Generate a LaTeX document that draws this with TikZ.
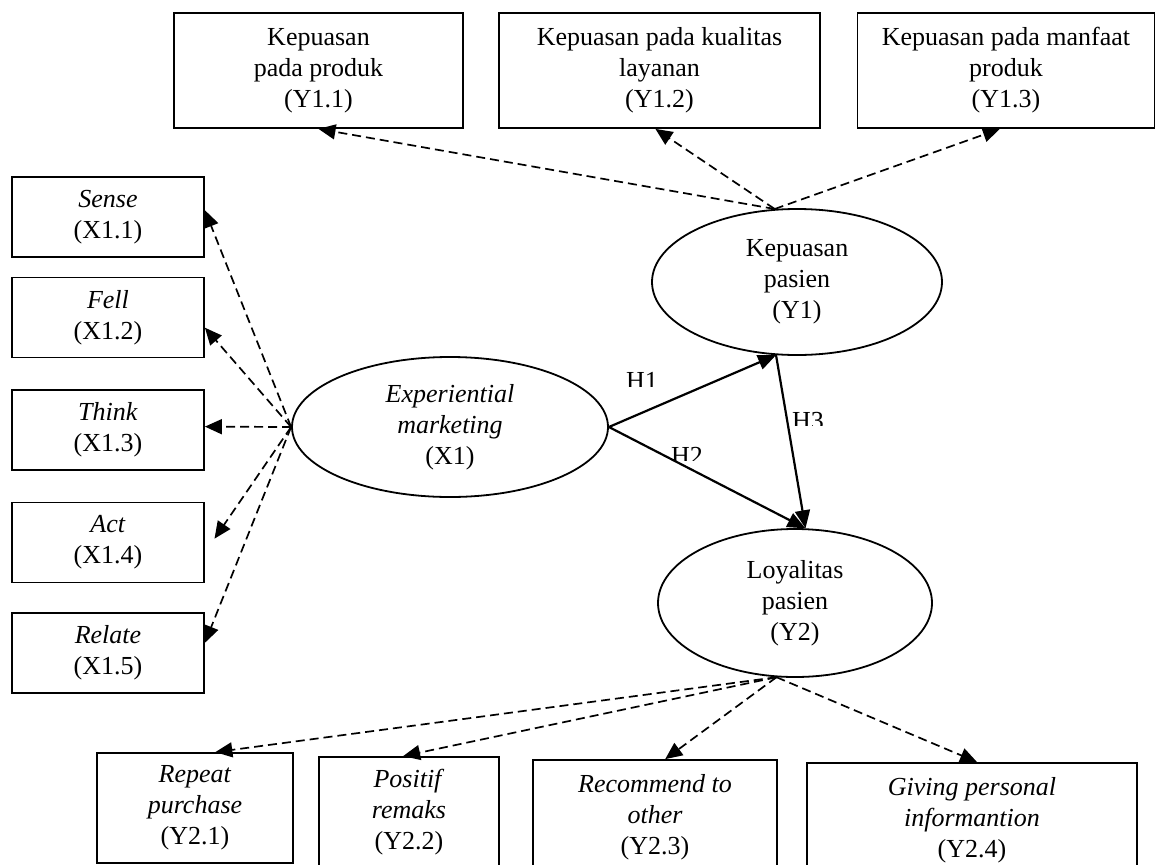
\documentclass[tikz,border=0pt]{standalone}
\usepackage{fontspec}
\setmainfont{Liberation Serif}
\usetikzlibrary{arrows.meta,shapes.geometric}
\begin{document}
\begin{tikzpicture}[x=1pt,y=-1pt,
  every node/.style={font=\fontsize{26}{31}\selectfont},
  box/.style={draw, line width=1.8pt, rectangle, inner sep=0pt, align=center},
  xbox/.style={box, minimum width=192pt, minimum height=80pt},
  lat/.style={draw, ellipse, line width=1.8pt, inner sep=0pt, align=center},
  dasharrow/.style={line width=1.7pt, dash pattern=on 9pt off 5pt, -{Triangle[length=17pt,width=15pt]}},
  patharrow/.style={line width=2.2pt, -{Triangle[length=18pt,width=15pt]}},
  hlabel/.style={inner sep=0pt}]
\useasboundingbox (0,0) rectangle (1157,865);
\clip (0,0) rectangle (1157,865);
% top indicator boxes
\node[box, minimum width=289pt, minimum height=115pt] (Y11) at (318.5,70.5) {Kepuasan\\pada produk\\(Y1.1)};
\node[box, minimum width=321pt, minimum height=115pt] (Y12) at (659.5,70.5) {Kepuasan pada kualitas\\layanan\\(Y1.2)};
\node[box, minimum width=297pt, minimum height=115pt] (Y13) at (1006,70.5) {Kepuasan pada manfaat\\produk\\(Y1.3)};
% left indicator boxes
\node[xbox] (X11) at (108,217) {\textit{Sense}\\(X1.1)};
\node[xbox] (X12) at (108,317.5) {\textit{Fell}\\(X1.2)};
\node[xbox] (X13) at (108,430) {\textit{Think}\\(X1.3)};
\node[xbox] (X14) at (108,542.5) {\textit{Act}\\(X1.4)};
\node[xbox] (X15) at (108,653) {\textit{Relate}\\(X1.5)};
% latent variables
\node[lat, minimum width=316pt, minimum height=140pt] (X1) at (450,427) {\textit{Experiential}\\\textit{marketing}\\(X1)};
\node[lat, minimum width=290pt, minimum height=146pt] (Y1) at (797,282) {Kepuasan\\pasien\\(Y1)};
\node[lat, minimum width=274pt, minimum height=148pt] (Y2) at (795,603) {Loyalitas\\pasien\\(Y2)};
% bottom indicator boxes
\node[box, minimum width=196pt, minimum height=110pt] (Y21) at (195,808) {\textit{Repeat}\\\textit{purchase}\\(Y2.1)};
\node[box, minimum width=180pt, minimum height=110pt] (Y22) at (409,812) {\textit{Positif}\\\textit{remaks}\\(Y2.2)};
\node[box, minimum width=244pt, minimum height=114pt] (Y23) at (655,817) {\textit{Recommend to}\\\textit{other}\\(Y2.3)};
\node[box, minimum width=330pt, minimum height=114pt] (Y24) at (972,820) {\textit{Giving personal}\\\textit{informantion}\\(Y2.4)};
% dashed loadings
\draw[dasharrow] (Y1.107) -- (Y11.south);
\draw[dasharrow] (Y1.107) -- (Y12.266);
\draw[dasharrow] (Y1.107) -- (Y13.264);
\draw[dasharrow] (X1.west) -- (X11.4);
\draw[dasharrow] (X1.west) -- (X12.-6);
\draw[dasharrow] (X1.west) -- (X13.2);
\draw[dasharrow, shorten >=17pt] (X1.west) -- (X14.-6);
\draw[dasharrow] (X1.west) -- (X15.6);
\draw[dasharrow] (Y2.256) -- (Y21.70);
\draw[dasharrow] (Y2.256) -- (Y22.96);
\draw[dasharrow] (Y2.256) -- (Y23.80);
\draw[dasharrow] (Y2.256) -- (Y24.85);
% structural paths
\draw[patharrow] (X1.east) -- (Y1.254);
\draw[patharrow] (X1.east) -- (Y2.82);
\draw[patharrow] (Y1.254) -- (Y2.82);
% hypothesis labels (bottom cut off as in the source)
\begin{scope}
\clip (600,360) rectangle (700,386);
\node[hlabel] (h1) at (642,380.7) {H1};
\end{scope}
\begin{scope}
\clip (650,435) rectangle (730,460);
\node[hlabel] (h2) at (687,455.7) {H2};
\end{scope}
\begin{scope}
\clip (780,400) rectangle (840,425);
\node[hlabel] (h3) at (808,420.7) {H3};
\end{scope}
\end{tikzpicture}
\end{document}
